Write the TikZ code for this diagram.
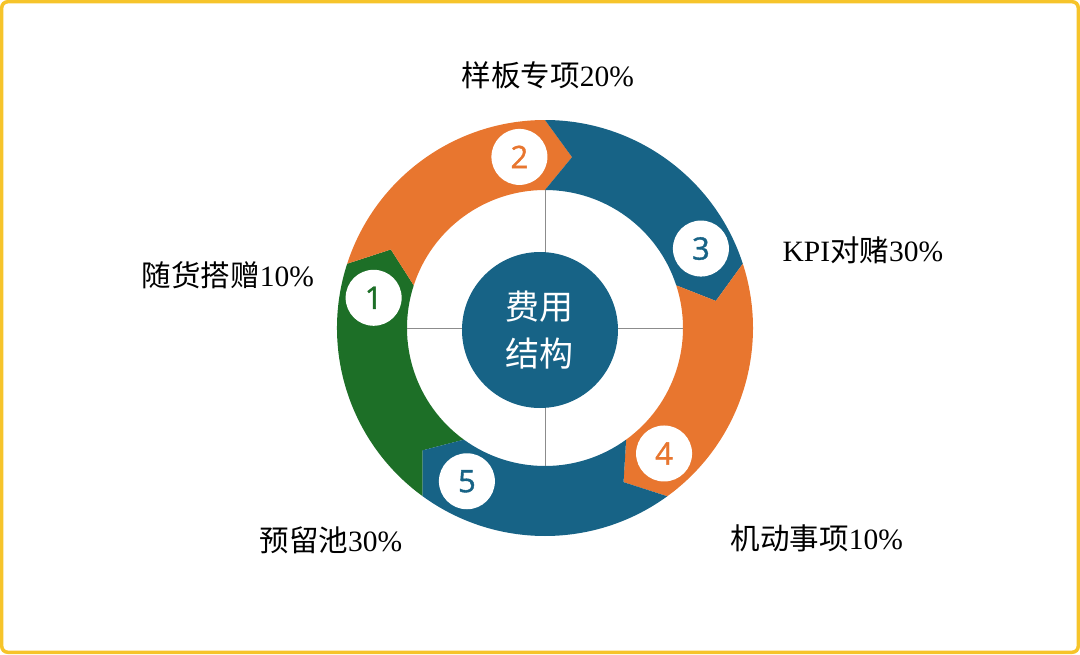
\documentclass[tikz,border=0pt]{standalone}
\usepackage{fontspec}
\setmainfont{Liberation Serif}
\newfontfamily\cjk{Noto Sans CJK SC}
\newfontfamily\numfont{Open Sans}[FakeBold=1.2]
\definecolor{ringorange}{HTML}{E8762F}
\definecolor{ringblue}{HTML}{176386}
\definecolor{ringgreen}{HTML}{1D6F27}
\definecolor{framegold}{HTML}{F6C42A}

\begin{document}
\begin{tikzpicture}[x=1pt,y=1pt,
  share/.style={font=\fontsize{29.5}{31}\selectfont, inner sep=0pt, anchor=center},
  numdot/.style={circle, fill=white, minimum size=56pt, inner sep=0pt, font=\numfont\fontsize{31}{31}\selectfont}]
\useasboundingbox (-545,-326) rectangle (535,328);
\draw[framegold, line width=3.5pt, rounded corners=6pt] (-543.25,-324.25) rectangle (533.25,326.25);
\fill[ringgreen] (234:208) arc[start angle=234, end angle=162, radius=208] -- (153:173) -- (162:138) arc[start angle=162, end angle=234, radius=138] -- (225:173) -- cycle;
\fill[ringorange] (162:208) arc[start angle=162, end angle=90, radius=208] -- (81:173) -- (90:138) arc[start angle=90, end angle=162, radius=138] -- (153:173) -- cycle;
\fill[ringblue] (90:208) arc[start angle=90, end angle=18, radius=208] -- (9:173) -- (18:138) arc[start angle=18, end angle=90, radius=138] -- (81:173) -- cycle;
\fill[ringorange] (18:208) arc[start angle=18, end angle=-54, radius=208] -- (-63:173) -- (-54:138) arc[start angle=-54, end angle=18, radius=138] -- (9:173) -- cycle;
\fill[ringblue] (-54:208) arc[start angle=-54, end angle=-126, radius=208] -- (-135:173) -- (-126:138) arc[start angle=-126, end angle=-54, radius=138] -- (-63:173) -- cycle;
\coordinate (westedge) at (180:138);
\coordinate (eastedge) at (0:138);
\coordinate (northedge) at (90:138);
\coordinate (southedge) at (-90:138);
\draw[black!45, line width=0.8pt] (westedge) -- (eastedge);
\draw[black!45, line width=0.8pt] (northedge) -- (southedge);
\node[circle, fill=ringblue, minimum size=156pt, inner sep=0pt, text=white, align=center, font=\cjk\fontsize{34}{47}\selectfont] (core) at (-5,-2) {费用\\结构};
\node[numdot, text=ringgreen] (n1) at (170:174) {1};
\node[numdot, text=ringorange] (n2) at (98.5:173) {2};
\node[numdot, text=ringblue] (n3) at (27:175) {3};
\node[numdot, text=ringorange] (n4) at (-46.5:173) {4};
\node[numdot, text=ringblue] (n5) at (-117:172) {5};
\node[share] (sample) at (3,253) {{\cjk 样板专项}20\%};
\node[share] (kpi) at (318,78) {KPI{\cjk 对赌}30\%};
\node[share] (gift) at (-317,53) {{\cjk 随货搭赠}10\%};
\node[share] (reserve) at (-214,-212) {{\cjk 预留池}30\%};
\node[share] (flex) at (272,-210) {{\cjk 机动事项}10\%};
\end{tikzpicture}
\end{document}
